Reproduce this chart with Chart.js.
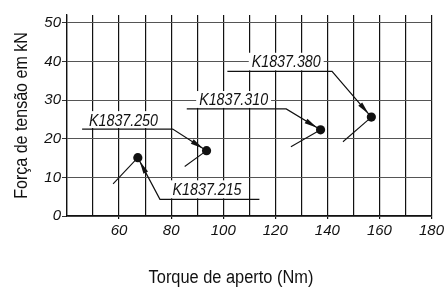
<!DOCTYPE html>
<html><head><meta charset="utf-8">
<script src="https://cdn.jsdelivr.net/npm/chart.js@4"></script>
<style>html,body{margin:0;padding:0;background:#fff}</style>
</head><body>
<canvas id="c" width="447" height="289"></canvas>
<script>
// ---- data ----
const models      = ['K1837.215', 'K1837.250', 'K1837.310', 'K1837.380'];
const torque      = [67.2, 93.6, 137.4, 156.9];   // Nm
const force       = [15.1, 16.9, 22.3, 25.6];     // kN
const tailTorque  = [57.7, 85.2, 126.0, 146.0];   // lower end of each slanted tail
const tailForce   = [8.3, 12.8, 17.9, 19.2];
const calloutY    = [4.3, 22.5, 27.7, 37.4];      // underline level of each callout
const calloutFar  = [113.9, 45.8, 86.0, 101.6];   // free end of underline
const calloutNear = [75.7, 80.6, 124.2, 141.8];   // elbow end of underline
const labelX      = [93.8, 61.7, 104.0, 124.2];   // label centre
const labelY      = [6.9, 24.8, 30.0, 39.9];
const xTicks = [40, 50, 60, 70, 80, 90, 100, 110, 120, 130, 140, 150, 160, 170, 180];
const yTicks = [0, 10, 20, 30, 40, 50];
const xTitle = 'Torque de aperto (Nm)';
const yTitle = 'Força de tensão em kN';

const FAM = "'Liberation Sans', Arial, sans-serif";
const INK = '#111';
const NARROW = 0.89;   // horizontal squeeze to mimic a condensed face

const datasets = [];
datasets.push({
  label: 'pontos',
  data: torque.map((t, i) => ({x: t, y: force[i]})),
  pointRadius: 4.6, pointHoverRadius: 4.6,
  backgroundColor: INK, borderColor: INK, borderWidth: 0, showLine: false
});
models.forEach((m, i) => {
  datasets.push({
    label: m + ' tail',
    data: [{x: torque[i], y: force[i]}, {x: tailTorque[i], y: tailForce[i]}],
    showLine: true, borderColor: INK, borderWidth: 1.1, pointRadius: 0
  });
  datasets.push({
    label: m + ' callout',
    data: [{x: calloutFar[i], y: calloutY[i]}, {x: calloutNear[i], y: calloutY[i]}, {x: torque[i], y: force[i]}],
    showLine: true, borderColor: INK, borderWidth: 1.2, pointRadius: 0
  });
});

function narrowText(ctx, text, x, y, k) {
  ctx.save();
  ctx.translate(x, y);
  ctx.scale(k, 1);
  ctx.fillText(text, 0, 0);
  ctx.restore();
}

const calloutPlugin = {
  id: 'callouts',
  beforeDatasetsDraw(chart) {
    const {ctx, scales: {x, y}} = chart;
    ctx.save();
    ctx.font = 'italic 16px ' + FAM;
    models.forEach((m, i) => {
      const w = ctx.measureText(m).width * NARROW;
      const cx = x.getPixelForValue(labelX[i]);
      const cy = y.getPixelForValue(labelY[i]);
      const uy = y.getPixelForValue(calloutY[i]);
      ctx.fillStyle = '#fff';
      ctx.fillRect(cx - w / 2 - 3, cy - 9, w + 6, uy - (cy - 9) - 1);
    });
    ctx.restore();
  },
  afterDatasetsDraw(chart) {
    const {ctx, scales: {x, y}} = chart;
    ctx.save();
    ctx.font = 'italic 16px ' + FAM;
    ctx.fillStyle = INK;
    ctx.textAlign = 'center';
    ctx.textBaseline = 'middle';
    models.forEach((m, i) => {
      narrowText(ctx, m, x.getPixelForValue(labelX[i]), y.getPixelForValue(labelY[i]) + 1, NARROW);
      // arrow head
      const px = x.getPixelForValue(torque[i]), py = y.getPixelForValue(force[i]);
      const ex = x.getPixelForValue(calloutNear[i]), ey = y.getPixelForValue(calloutY[i]);
      let dx = px - ex, dy = py - ey;
      const L = Math.hypot(dx, dy); dx /= L; dy /= L;
      const tx = px - dx * 4, ty = py - dy * 4;
      const bx = tx - dx * 13, by = ty - dy * 13;
      ctx.beginPath();
      ctx.moveTo(tx, ty);
      ctx.lineTo(bx - dy * 2.6, by + dx * 2.6);
      ctx.lineTo(bx + dy * 2.6, by - dx * 2.6);
      ctx.closePath();
      ctx.fill();
    });
    ctx.restore();
  },
  afterDraw(chart) {
    const {ctx, chartArea} = chart;
    ctx.save();
    ctx.fillStyle = INK;
    ctx.font = '18px ' + FAM;
    ctx.textAlign = 'center';
    ctx.textBaseline = 'alphabetic';
    narrowText(ctx, xTitle, 231, 283, 0.91);
    ctx.translate(27, (chartArea.top + chartArea.bottom) / 2);
    ctx.rotate(-Math.PI / 2);
    narrowText(ctx, yTitle, 0, 0, 0.89);
    ctx.restore();
  }
};

new Chart(document.getElementById('c'), {
  type: 'scatter',
  data: {datasets},
  options: {
    responsive: false, animation: false, devicePixelRatio: 1,
    layout: {padding: {top: 15, right: 14, left: 0, bottom: 0}},
    plugins: {legend: {display: false}, tooltip: {enabled: false}},
    scales: {
      x: {
        type: 'linear', min: 40, max: 180,
        afterFit(s) { s.height = 73; },
        afterBuildTicks(s) { s.ticks = xTicks.map(v => ({value: v})); },
        ticks: {
          autoSkip: false, maxRotation: 0, padding: 3, color: INK,
          font: {family: FAM, size: 15, style: 'italic'},
          callback: v => (v >= 60 && v % 20 === 0) ? String(v) : ''
        },
        grid: {
          color: INK, lineWidth: 1.2, tickLength: 3,
          tickColor: c => (c.tick && c.tick.value >= 60 && c.tick.value % 20 === 0) ? INK : 'rgba(0,0,0,0)'
        },
        border: {display: true, color: INK, width: 1.3}
      },
      y: {
        type: 'linear', min: 0, max: 52,
        afterFit(s) { s.width = 67; },
        afterBuildTicks(s) { s.ticks = yTicks.map(v => ({value: v})); },
        ticks: {
          padding: 1, color: INK,
          font: {family: FAM, size: 15, style: 'italic'}
        },
        grid: {color: '#555', lineWidth: 1, tickLength: 5, tickColor: '#333'},
        border: {display: true, color: INK, width: 1.3}
      }
    }
  },
  plugins: [calloutPlugin]
});
</script>
</body></html>
